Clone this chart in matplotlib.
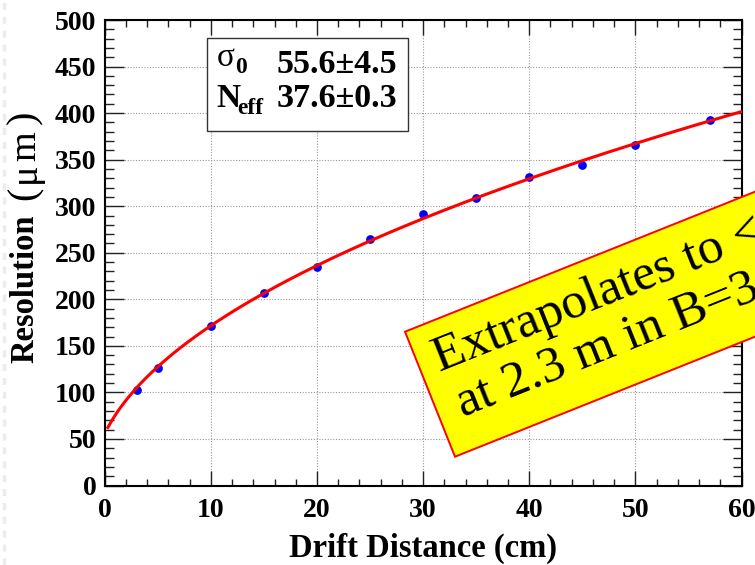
import numpy as np
import matplotlib
matplotlib.use("Agg")
import matplotlib.pyplot as plt
from matplotlib.patches import Rectangle
from matplotlib.lines import Line2D
from matplotlib.ticker import MultipleLocator

# Measured single-hit resolution versus drift distance
drift_cm = [3, 5, 10, 15, 20, 25, 30, 35, 40, 45, 50, 57]
resolution_um = [103, 126.5, 171, 206.5, 235, 265, 291.5, 308.5, 331.5, 344.5, 366, 392.5]

# Fit parameters shown in the statistics box
sigma0, sigma0_err = 55.6, 4.5
n_eff, n_eff_err = 37.6, 0.3

x_ticks = [0, 10, 20, 30, 40, 50, 60]
y_ticks = [0, 50, 100, 150, 200, 250, 300, 350, 400, 450, 500]

note_line1 = "Extrapolates to < 100 μm"
note_line2 = "at 2.3 m in B=3.5 T"

W, H, DPI = 755, 565, 100
fig = plt.figure(figsize=(W / DPI, H / DPI), dpi=DPI)
fig.patch.set_facecolor("white")

def fx(px):
    return px / W

def fy(py):
    return 1 - py / H

# faint slide-edge stitching on the left border
fig.add_artist(Line2D([fx(4), fx(4)], [0, 1], transform=fig.transFigure,
                      color="#ececec", lw=2.5, linestyle=(0, (2, 2))))

ax_l, ax_r, ax_t, ax_b = 104.7, 741.5, 20.0, 485.5
ax = fig.add_axes([fx(ax_l), fy(ax_b), fx(ax_r - ax_l), (ax_b - ax_t) / H])
ax.set_xlim(0, 60)
ax.set_ylim(0, 500)

bold = dict(family="Liberation Serif", weight="bold")

# Diffusion model sigma^2 = sigma0^2 + k * x, with k from a least-squares fit
x = np.asarray(drift_cm, float)
y = np.asarray(resolution_um, float)
k = np.sum(x * (y ** 2 - sigma0 ** 2)) / np.sum(x ** 2)
xf = np.linspace(0.3, 60, 400)
yf = np.sqrt(sigma0 ** 2 + k * xf)

ax.plot(x, y, "o", color="#0000ff", markersize=6.3, zorder=3, markeredgewidth=0)
ax.plot(xf, yf, color="#ff0000", lw=2.2, zorder=4)

# Axes styling
ax.set_xticks(x_ticks)
ax.set_yticks(y_ticks)
ax.xaxis.set_minor_locator(MultipleLocator(2))
ax.yaxis.set_minor_locator(MultipleLocator(10))
ax.tick_params(axis="x", which="major", direction="in", length=11, width=1.0,
               top=True, bottom=True, pad=9, labelsize=20, color="#222222")
ax.tick_params(axis="x", which="minor", direction="in", length=5, width=1.0,
               top=True, bottom=True, color="#222222")
ax.tick_params(axis="y", which="major", direction="in", length=13.5, width=1.0,
               left=True, right=True, pad=6, labelsize=20, color="#222222")
ax.tick_params(axis="y", which="minor", direction="in", length=6.5, width=1.0,
               left=True, right=True, color="#222222")
for lab in ax.get_xticklabels() + ax.get_yticklabels():
    lab.set_fontfamily("Liberation Serif")
    lab.set_fontweight("bold")
for sp in ax.spines.values():
    sp.set_linewidth(1.5)
    sp.set_color("black")

ax.grid(True, which="major", color="#9a9a9a", lw=0.8, linestyle=(0, (1, 1.5)))
ax.set_axisbelow(True)

fig.text(fx(423), fy(548), "Drift Distance (cm)", ha="center", va="center",
         fontsize=23.5, **bold)

# y title, assembled piece by piece so the unit part keeps its larger glyphs
rot = dict(rotation=90, rotation_mode="anchor", va="center")
fig.text(fx(25), fy(363), "Resolution", ha="left", fontsize=23.5, **rot, **bold)
fig.text(fx(25), fy(193), "(", ha="center", fontsize=29, family="Liberation Serif", **rot)
fig.text(fx(25.5), fy(173), "μ", ha="center", fontsize=27.5, family="Liberation Serif", **rot)
fig.text(fx(25.5), fy(146), "m", ha="center", fontsize=27.5, family="Liberation Serif", **rot)
fig.text(fx(25), fy(117), ")", ha="center", fontsize=29, family="Liberation Serif", **rot)

# Statistics box
fig.add_artist(Rectangle((fx(206.7), fy(131)), fx(407.7 - 206.7), (131 - 38.3) / H,
                         transform=fig.transFigure, facecolor="white",
                         edgecolor="#333333", lw=1.0, zorder=5))
fig.text(fx(216.5), fy(65.5), "σ", fontsize=24, family="Liberation Serif",
         ha="left", va="baseline", zorder=6)
fig.text(fx(235), fy(73.3), "0", fontsize=17, ha="left", va="baseline", zorder=6, **bold)
fig.text(fx(397), fy(72.8), f"{sigma0:.1f}±{sigma0_err:.1f}", fontsize=24.5,
         ha="right", va="baseline", zorder=6, **bold)
fig.text(fx(216.5), fy(107.3), "N", fontsize=24, ha="left", va="baseline", zorder=6, **bold)
fig.text(fx(237.5), fy(114.3), "eff", fontsize=17, ha="left", va="baseline", zorder=6, **bold)
fig.text(fx(397), fy(107.3), f"{n_eff:.1f}±{n_eff_err:.1f}", fontsize=24.5,
         ha="right", va="baseline", zorder=6, **bold)

# Rotated yellow call-out (pixel coordinates, y upward)
ang = 21.8
u = np.array([np.cos(np.radians(ang)), np.sin(np.radians(ang))])
n = np.array([-u[1], u[0]])
corner = np.array([455.0, H - 456.7])
px = fig.dpi_scale_trans
box = Rectangle(tuple(corner / DPI), 700 / DPI, 134.6 / DPI, angle=ang,
                rotation_point="xy", transform=px, facecolor="#ffff00",
                edgecolor="#ff0000", lw=1.4, zorder=7)
fig.add_artist(box)
p1 = corner + 17.5 * u + 84 * n
p2 = corner + 22 * u + 34 * n
for p, s in ((p1, note_line1), (p2, note_line2)):
    fig.text(p[0] / DPI, p[1] / DPI, s, transform=px, fontsize=37,
             family="Liberation Serif", rotation=ang, rotation_mode="anchor",
             ha="left", va="baseline", color="black", zorder=8)

fig.savefig("out.png", dpi=DPI, facecolor="white")
